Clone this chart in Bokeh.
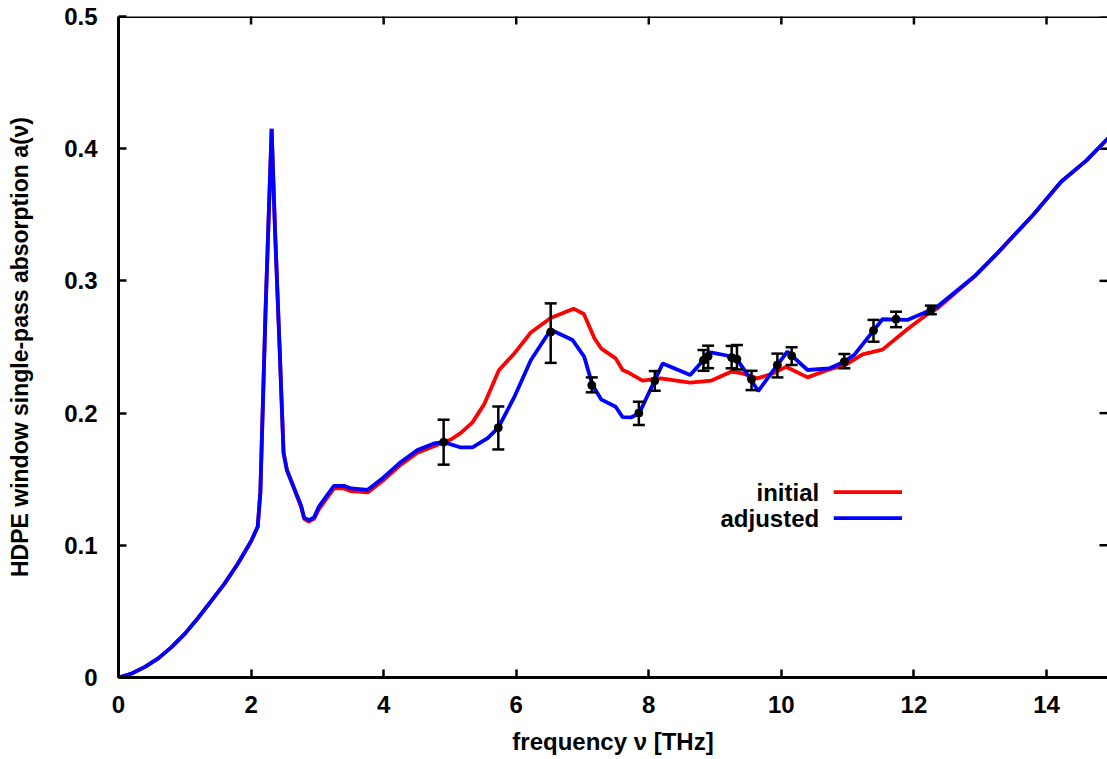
import math
from bokeh.plotting import figure
from bokeh.models import (Range1d, FixedTicker, Label, Whisker, Span,
                          TeeHead, ColumnDataSource)
from bokeh.embed import file_html
from bokeh.resources import INLINE

# ---------------- data ----------------
initial_x = [0, 0.2, 0.4, 0.6, 0.8, 1.0, 1.2, 1.4, 1.6, 1.8, 2.0, 2.10, 2.14, 2.22, 2.31,
             2.36, 2.43, 2.49, 2.54, 2.755, 2.80, 2.87, 2.95, 3.02, 3.25, 3.40, 3.51,
             3.76, 3.99, 4.26, 4.51, 4.76, 4.905, 5.015, 5.165, 5.34, 5.52, 5.74, 5.97,
             6.22, 6.52, 6.865, 7.02, 7.18, 7.28, 7.50, 7.605, 7.70, 7.905, 8.18, 8.625,
             8.94, 9.24, 9.415, 9.64, 9.87, 10.07, 10.395, 10.72, 10.95, 11.225, 11.525,
             11.90, 12.205, 12.355, 12.91, 13.26, 13.5, 13.8, 14.22, 14.6, 14.95]
initial_y = [0, 0.003, 0.008, 0.0145, 0.023, 0.033, 0.045, 0.058, 0.071, 0.086, 0.103,
             0.114, 0.14, 0.28, 0.415, 0.34, 0.25, 0.17, 0.157, 0.129, 0.120, 0.118,
             0.120, 0.127, 0.143, 0.143, 0.141, 0.140, 0.149, 0.161, 0.170, 0.175,
             0.178, 0.180, 0.185, 0.193, 0.207, 0.2326, 0.245, 0.261, 0.272, 0.279,
             0.275, 0.2566, 0.249, 0.2414, 0.2326, 0.2305, 0.2245, 0.2263, 0.223,
             0.2245, 0.2313, 0.230, 0.2263, 0.230, 0.235, 0.227, 0.233, 0.236, 0.2444,
             0.248, 0.2634, 0.275, 0.2793, 0.3033, 0.321, 0.334, 0.350, 0.375, 0.391,
             0.409]

adjusted_x = [0, 0.2, 0.4, 0.6, 0.8, 1.0, 1.2, 1.4, 1.6, 1.8, 2.0, 2.10, 2.14, 2.22, 2.31,
              2.36, 2.43, 2.49, 2.54, 2.755, 2.80, 2.87, 2.95, 3.02, 3.25, 3.40, 3.51,
              3.76, 3.99, 4.26, 4.51, 4.76, 4.905, 5.165, 5.34, 5.57, 5.73, 5.97, 6.22,
              6.52, 6.85, 7.025, 7.15, 7.28, 7.50, 7.605, 7.73, 7.855, 8.08, 8.21, 8.625,
              8.835, 8.935, 9.21, 9.33, 9.54, 9.65, 9.94, 10.09, 10.395, 10.72, 10.95,
              11.10, 11.39, 11.525, 11.90, 12.255, 12.355, 12.91, 13.26, 13.5, 13.8,
              14.22, 14.6, 14.95]
adjusted_y = [0, 0.003, 0.008, 0.0145, 0.023, 0.033, 0.045, 0.058, 0.071, 0.086, 0.103,
              0.114, 0.14, 0.28, 0.415, 0.34, 0.25, 0.17, 0.157, 0.130, 0.121, 0.119,
              0.121, 0.129, 0.145, 0.145, 0.143, 0.142, 0.151, 0.163, 0.172, 0.177,
              0.178, 0.174, 0.174, 0.181, 0.189, 0.212, 0.240, 0.263, 0.2553, 0.2427,
              0.2212, 0.2104, 0.2048, 0.197, 0.1967, 0.1998, 0.2237, 0.2376, 0.2288,
              0.2407, 0.246, 0.2432, 0.2407, 0.2255, 0.2167, 0.2364, 0.2465, 0.2326,
              0.2338, 0.2389, 0.244, 0.2624, 0.271, 0.2705, 0.278, 0.2806, 0.3033,
              0.321, 0.334, 0.350, 0.375, 0.391, 0.409]

meas_x = [4.905, 5.73, 6.52, 7.14, 7.85, 8.09, 8.825, 8.895, 9.25, 9.33, 9.55, 9.94,
          10.155, 10.95, 11.39, 11.73, 12.255]
meas_y = [0.178, 0.189, 0.2613, 0.221, 0.200, 0.2245, 0.240, 0.243, 0.242, 0.2407,
          0.2255, 0.2364, 0.2434, 0.2389, 0.2624, 0.271, 0.278]
meas_lo = [0.161, 0.1725, 0.238, 0.2157, 0.191, 0.2169, 0.232, 0.234, 0.2339, 0.233,
           0.2174, 0.227, 0.2364, 0.2339, 0.254, 0.265, 0.2748]
meas_hi = [0.195, 0.205, 0.283, 0.227, 0.2086, 0.2318, 0.2477, 0.251, 0.2508, 0.2515,
           0.232, 0.245, 0.2498, 0.2447, 0.2705, 0.2767, 0.2813]

x_ticks = [0, 2, 4, 6, 8, 10, 12, 14]
y_ticks = [0, 0.1, 0.2, 0.3, 0.4, 0.5]
y_tick_labels = ["0", "0.1", "0.2", "0.3", "0.4", "0.5"]
series_names = ["initial", "adjusted"]
series_colors = ["#ff0000", "#0000ff"]
x_title = "frequency ν [THz]"
y_title = "HDPE window single-pass absorption a(ν)"

FONT = "Liberation Sans"
X_END = 14.92
Y_END = 0.5

p = figure(width=1107, height=759, x_range=Range1d(0, X_END), y_range=Range1d(0, Y_END),
           toolbar_location=None, output_backend="svg",
           min_border_left=118, min_border_right=0, min_border_top=16,
           min_border_bottom=82, background_fill_color="white",
           border_fill_color="white")
p.outline_line_color = None
p.grid.visible = False


def style_axis(ax):
    ax.major_tick_in = 8
    ax.major_tick_out = 0
    ax.minor_tick_in = 0
    ax.minor_tick_out = 0
    ax.major_tick_line_width = 2.5
    ax.major_tick_line_color = "black"
    ax.axis_line_width = 3
    ax.axis_line_color = "black"
    ax.major_label_text_font = FONT
    ax.major_label_text_font_style = "bold"
    ax.major_label_text_font_size = "24px"
    ax.major_label_text_color = "black"
    ax.axis_label_text_font = FONT
    ax.axis_label_text_font_style = "bold"
    ax.axis_label_text_color = "black"


xa = p.xaxis[0]
xa.ticker = FixedTicker(ticks=x_ticks)
style_axis(xa)
xa.major_label_standoff = 18
xa.axis_label = x_title
xa.axis_label_text_font_size = "24px"
xa.axis_label_standoff = 12

ya = p.yaxis[0]
ya.ticker = FixedTicker(ticks=y_ticks)
style_axis(ya)
ya.major_label_standoff = 21
ya.major_label_overrides = {t: s for t, s in zip(y_ticks, y_tick_labels)}
ya.axis_label = y_title
ya.axis_label_text_font_size = "23px"
ya.axis_label_standoff = 28

# top border and mirrored inward ticks (top and right)
p.add_layout(Span(location=Y_END, dimension="width", line_color="black", line_width=3))
p.scatter(x=x_ticks, y=[Y_END] * len(x_ticks), marker="dash", angle=math.pi / 2,
          size=16, line_color="black", line_width=2.5)
p.scatter(x=[X_END] * len(y_ticks), y=y_ticks, marker="dash", size=16,
          line_color="black", line_width=2.5)

# curves
p.line(initial_x, initial_y, line_color=series_colors[0], line_width=3.8)
p.line(adjusted_x, adjusted_y, line_color=series_colors[1], line_width=3.8)

# measured points with error bars
src = ColumnDataSource(dict(x=meas_x, y=meas_y, lo=meas_lo, hi=meas_hi))
w = Whisker(source=src, base="x", upper="hi", lower="lo", dimension="height",
            line_color="black", line_width=2.5, level="overlay",
            upper_head=TeeHead(size=12, line_width=2.5, line_color="black"),
            lower_head=TeeHead(size=12, line_width=2.5, line_color="black"))
p.add_layout(w)
p.scatter("x", "y", source=src, size=8, color="black", level="overlay")

# legend (label left of sample, as in reference)
leg_y = [0.1402, 0.1205]
for name, col, yy in zip(series_names, series_colors, leg_y):
    p.add_layout(Label(x=10.57, y=yy, text=name, text_align="right",
                       text_baseline="middle", text_font=FONT, text_color="black",
                       text_font_style="bold", text_font_size="24px"))
    p.segment(x0=[10.79], y0=[yy], x1=[11.82], y1=[yy], line_color=col,
              line_width=3.8)

open("out.html", "w").write(file_html(p, INLINE))
